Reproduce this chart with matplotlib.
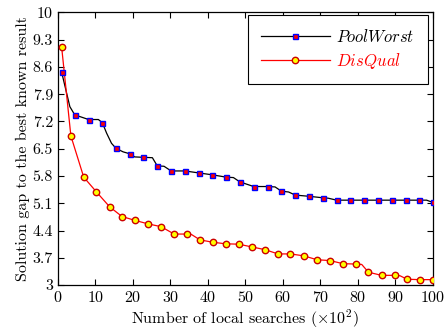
#gap-to-best-known plot, PoolWorst vs DisQual

import numpy as np
import matplotlib
matplotlib.use("Agg")
import matplotlib.pyplot as plt

# x in units of 10^2 local searches, marked points
pool_x = [1, 4.5, 8.2, 11.85, 15.5, 19.2, 22.8, 26.5, 30.2, 33.9, 37.5, 41.2, 44.9, 48.5,
          52.2, 55.9, 59.6, 63.3, 66.9, 70.7, 74.3, 78, 81.7, 85.3, 89, 92.7, 96.3, 100]
pool_y = [8.47, 7.37, 7.25, 7.17, 6.51, 6.37, 6.28, 6.06, 5.93, 5.93, 5.88, 5.83, 5.77, 5.65,
          5.53, 5.53, 5.41, 5.31, 5.28, 5.24, 5.18, 5.18, 5.18, 5.18, 5.18, 5.18, 5.18, 5.12]

disq_x = [1, 3.47, 6.9, 10.3, 13.8, 17.1, 20.6, 24.1, 27.5, 31.0, 34.4, 37.9, 41.3, 44.7, 48.2,
          51.7, 55.2, 58.7, 62.0, 65.6, 69.1, 72.5, 76.0, 79.4, 82.8, 86.3, 89.8, 93.1, 96.5, 100]
disq_y = [9.12, 6.83, 5.77, 5.39, 5.01, 4.76, 4.66, 4.57, 4.50, 4.31, 4.31, 4.16, 4.10, 4.06, 4.05,
          3.98, 3.91, 3.80, 3.80, 3.75, 3.65, 3.63, 3.55, 3.54, 3.33, 3.25, 3.25, 3.15, 3.14, 3.14]

# extra unmarked points of the curves (where the steps bend)
pool_knee_x = [3.2, 10.8, 13.0, 14.3, 17.4, 20.5, 25.2, 28.3, 46.8, 57.9, 61.5, 72.1, 98.3]
pool_knee_y = [7.58, 7.25, 6.90, 6.64, 6.42, 6.29, 6.27, 6.05, 5.76, 5.52, 5.39, 5.23, 5.18]

disq_knee_x = [35.6, 81.0, 91.2]
disq_knee_y = [4.30, 3.53, 3.24]

xticks = list(range(0, 101, 10))
yticks = [3, 3.7, 4.4, 5.1, 5.8, 6.5, 7.2, 7.9, 8.6, 9.3, 10]
ytick_labels = ["3", "3.7", "4.4", "5.1", "5.8", "6.5", "7.2", "7.9", "8.6", "9.3", "10"]


def merge(xs, ys, kx, ky):
    pts = sorted(list(zip(xs, ys)) + list(zip(kx, ky)))
    return [p[0] for p in pts], [p[1] for p in pts]


plt.rcParams["font.family"] = "serif"
plt.rcParams["font.serif"] = ["cmr10", "DejaVu Serif"]
plt.rcParams["mathtext.fontset"] = "cm"
plt.rcParams["axes.formatter.use_mathtext"] = True

fig = plt.figure(figsize=(4.45, 3.35), dpi=100)
ax = fig.add_axes([0.130, 0.149, 0.843, 0.814])

lx, ly = merge(pool_x, pool_y, pool_knee_x, pool_knee_y)
l1, = ax.plot(lx, ly, color="black", lw=0.9, zorder=2)
m1, = ax.plot(pool_x, pool_y, ls="none", marker="s", ms=3.6,
              mfc="red", mec="blue", mew=1.0, zorder=3)

lx, ly = merge(disq_x, disq_y, disq_knee_x, disq_knee_y)
l2, = ax.plot(lx, ly, color="red", lw=0.9, zorder=2)
m2, = ax.plot(disq_x, disq_y, ls="none", marker="o", ms=4.6,
              mfc="yellow", mec="#cc0000", mew=1.0, zorder=3)

ax.set_xlim(0, 100)
ax.set_ylim(3, 10)
ax.set_xticks(xticks)
ax.set_yticks(yticks)
ax.set_yticklabels(ytick_labels)
ax.tick_params(direction="in", top=True, right=True, labelsize=11.5, length=4, width=0.8)
for s in ax.spines.values():
    s.set_linewidth(0.9)

ax.set_xlabel(r"Number of local searches ($\times 10^2$)", fontsize=11.5, labelpad=2)
ax.set_ylabel("Solution gap to the best known result", fontsize=11.5, labelpad=1.5)

leg = ax.legend([(l1, m1), (l2, m2)], [r"$PoolWorst$", r"$DisQual$"],
                loc="upper right", bbox_to_anchor=(0.9867, 0.992), borderaxespad=0,
                fontsize=12, frameon=True, fancybox=False,
                edgecolor="black", framealpha=1, handlelength=4.1, handletextpad=0.4,
                borderpad=0.8, labelspacing=0.35)
leg.get_frame().set_linewidth(0.8)
leg.get_texts()[1].set_color("red")

fig.savefig("out.png", dpi=100)
